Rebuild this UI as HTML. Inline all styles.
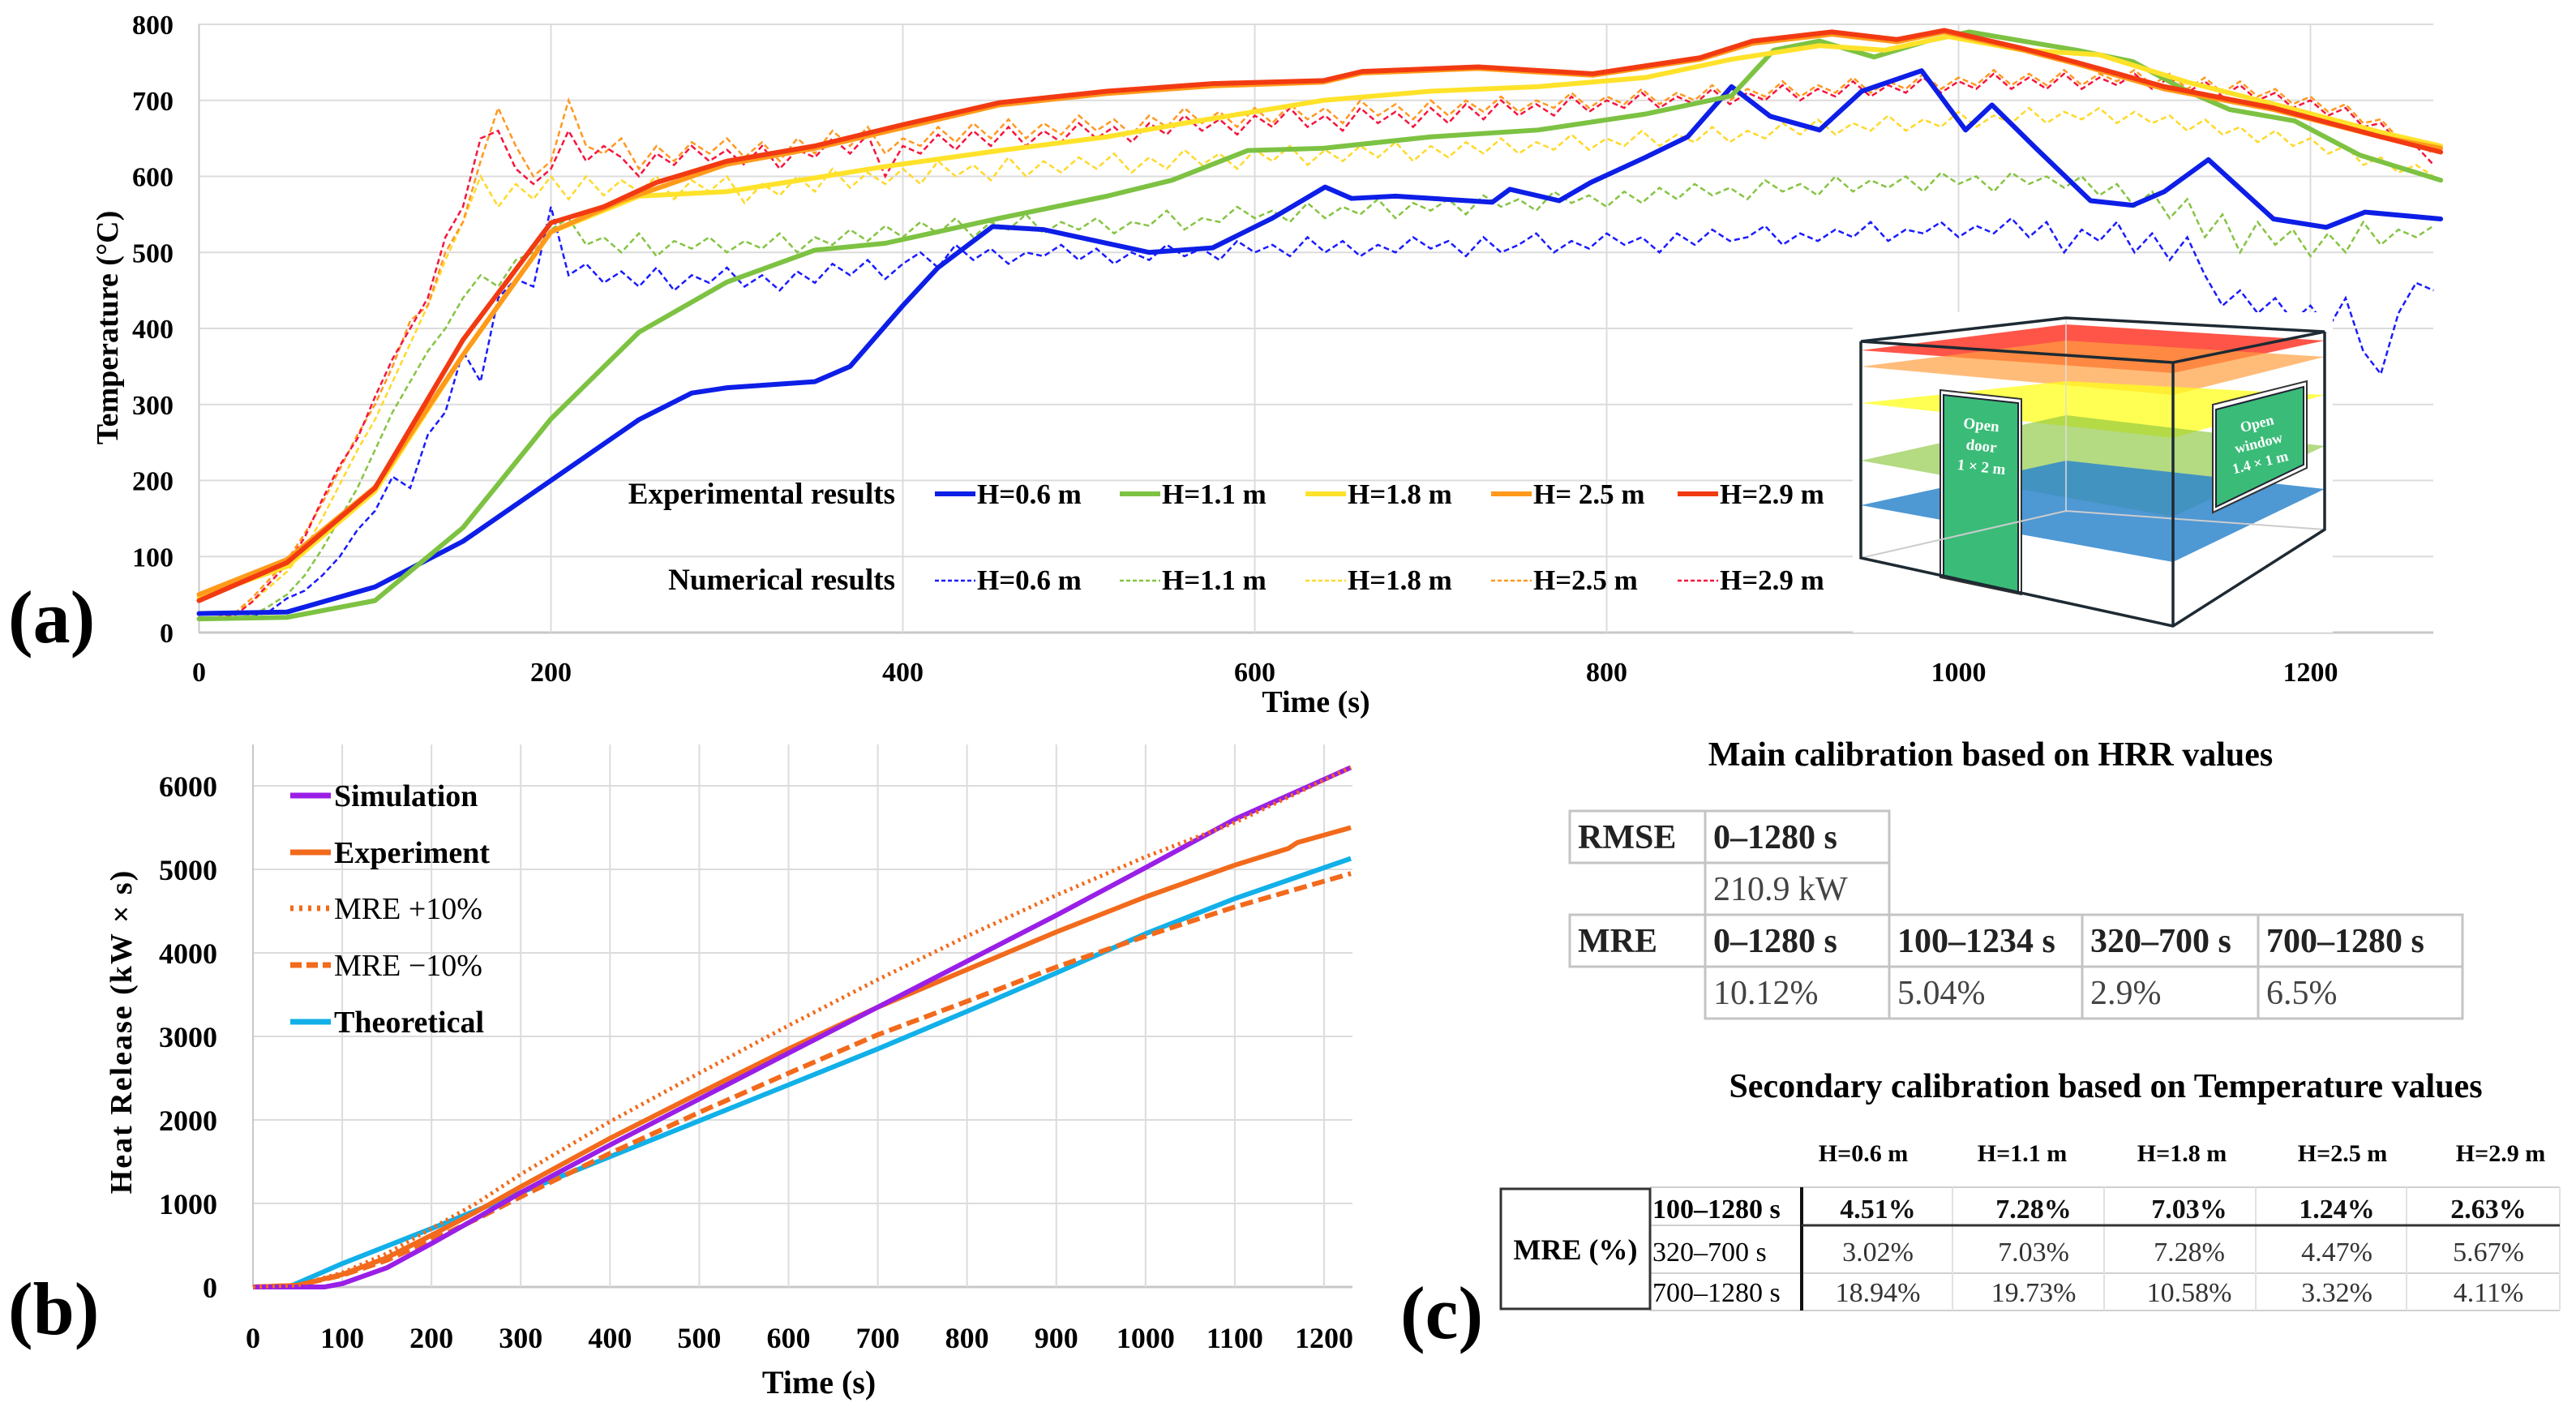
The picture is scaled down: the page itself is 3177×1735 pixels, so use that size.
<!DOCTYPE html>
<html><head><meta charset="utf-8"><style>
html,body{margin:0;padding:0;background:#fff;}
svg{display:block;font-family:"Liberation Serif",serif;}
</style></head><body>
<svg id="fig" width="3177" height="1735" viewBox="0 0 3177 1735" xmlns="http://www.w3.org/2000/svg">
<g id="chartA"></g>
<g id="inset">
  <polygon points="2295,432 2548,400 2867,420 2680,460" fill="#ff2a1a" fill-opacity="0.8"/>
  <polygon points="2295,452 2548,420 2867,440 2680,487" fill="#ffa040" fill-opacity="0.7"/>
  <polygon points="2295,497 2548,470 2867,487 2680,540" fill="#ffff1a" fill-opacity="0.75"/>
  <polygon points="2295,568 2548,512 2867,550 2680,637" fill="#8cc63f" fill-opacity="0.65"/>
  <polygon points="2295,623 2548,568 2867,603 2680,693" fill="#2f86cc" fill-opacity="0.85"/>
  <polygon points="2393,481 2493,492 2493,733 2393,712" fill="#fff" stroke="#333" stroke-width="2"/>
  <polygon points="2397,487 2489,497 2489,730 2397,710" fill="#17b060" fill-opacity="0.85" stroke="#223" stroke-width="2"/>
  <polygon points="2729,499 2845,470 2845,577 2729,632" fill="#fff" stroke="#333" stroke-width="2"/>
  <polygon points="2733,505 2841,477 2841,573 2733,625" fill="#17b060" fill-opacity="0.85" stroke="#223" stroke-width="2"/>
  <text x="2443" y="530" font-size="19" font-weight="bold" fill="#fff" text-anchor="middle" transform="rotate(6 2443 530)">Open</text>
  <text x="2443" y="556" font-size="19" font-weight="bold" fill="#fff" text-anchor="middle" transform="rotate(6 2443 556)">door</text>
  <text x="2443" y="582" font-size="19" font-weight="bold" fill="#fff" text-anchor="middle" transform="rotate(6 2443 582)">1 × 2 m</text>
  <text x="2785" y="528" font-size="18" font-weight="bold" fill="#fff" text-anchor="middle" transform="rotate(-14 2785 528)">Open</text>
  <text x="2787" y="552" font-size="18" font-weight="bold" fill="#fff" text-anchor="middle" transform="rotate(-14 2787 552)">window</text>
  <text x="2789" y="576" font-size="18" font-weight="bold" fill="#fff" text-anchor="middle" transform="rotate(-14 2789 576)">1.4 × 1 m</text>
  <polyline points="2295,688 2548,630 2867,653" fill="none" stroke="#ccc" stroke-width="2"/>
  <polyline points="2548,392 2548,630" fill="none" stroke="#ddd" stroke-width="1.5"/>
  <polygon points="2295,421 2548,392 2867,409 2680,447" fill="none" stroke="#1e2a33" stroke-width="3.5"/>
  <polyline points="2295,421 2295,688 2680,772 2867,653 2867,409" fill="none" stroke="#1e2a33" stroke-width="3.5"/>
  <line x1="2680" y1="447" x2="2680" y2="772" stroke="#1e2a33" stroke-width="3.5"/>
</g>
<g id="chartB"></g>
<g id="panelC"></g>
<text x="10" y="792" font-size="92" font-weight="bold">(a)</text>
<text x="10" y="1645" font-size="92" font-weight="bold">(b)</text>
<text x="1727" y="1650" font-size="92" font-weight="bold">(c)</text>
</svg>
<script>
// ---------- Chart A data ----------
const aYTicks = [0,100,200,300,400,500,600,700,800];
const aXTicks = [0,200,400,600,800,1000,1200];
const expT06 = [0,50,100,150,200,250,280,300,350,370,400,420,451,480,510,540,576,610,640,655,680,735,745,773,791,822,846,871,893,921,945,979,1004,1019,1044,1075,1099,1117,1142,1179,1209,1231,1274];
const expV06 = [25,27,60,120,200,280,315,322,330,350,430,480,534,530,515,500,506,545,586,571,574,566,583,568,592,625,652,718,679,661,712,739,661,694,637,568,562,580,622,544,533,553,544];
const expT11 = [0,50,100,150,200,250,300,350,390,455,516,553,596,639,700,761,822,871,895,921,952,982,1006,1067,1099,1130,1154,1191,1228,1274];
const expV11 = [18,20,42,138,281,395,461,503,512,545,574,595,634,637,652,661,682,706,766,778,757,778,790,766,751,712,688,673,628,595];
const expT18 = [0,50,100,150,200,250,300,350,390,455,516,560,576,639,700,761,822,871,921,958,994,1037,1080,1130,1191,1240,1274];
const expV18 = [46,87,186,365,527,574,580,598,613,634,652,670,676,700,712,718,730,754,772,766,784,766,760,724,688,658,640];
const expT25 = [0,50,100,150,200,240,300,350,400,455,516,576,639,661,727,792,853,883,928,965,992,1037,1067,1117,1179,1240,1274];
const expV25 = [50,96,191,365,527,568,616,637,664,694,709,719,724,736,742,733,754,775,787,777,790,766,748,715,688,652,637];
const expT29 = [0,50,100,150,200,230,260,300,350,400,455,516,576,639,661,727,792,853,883,928,965,992,1037,1067,1117,1179,1240,1274];
const expV29 = [42,92,190,385,539,560,592,620,640,668,697,712,722,726,738,744,735,756,778,790,780,792,768,750,718,690,652,632];
// numerical results sampled every 10 s from t=0
const numV06 = [20,20,20,20,28,45,55,75,100,135,160,205,190,260,290,370,330,440,465,455,560,470,485,460,475,455,480,450,470,460,480,455,470,450,475,460,485,470,490,465,485,500,480,510,490,505,485,500,495,510,490,505,485,500,490,510,495,505,490,515,500,510,495,520,500,515,495,510,500,520,505,515,495,520,500,510,525,500,515,505,525,510,520,500,525,510,530,515,520,535,510,525,515,530,520,540,515,530,525,540,520,535,525,545,520,540,500,530,515,540,500,525,490,520,470,430,450,420,440,410,430,400,440,370,340,420,460,450];
const numV11 = [20,20,20,22,35,50,75,110,150,190,240,290,330,370,400,440,470,455,490,500,530,545,510,520,500,525,495,515,505,520,500,515,505,525,500,520,510,530,515,535,520,540,525,545,520,540,530,550,525,540,530,545,525,540,535,555,530,545,540,560,545,555,540,565,545,560,550,570,545,565,555,570,550,575,560,570,555,580,565,575,560,580,565,585,570,590,575,585,570,595,580,590,575,600,580,595,585,600,580,605,590,600,580,605,590,600,585,600,575,590,560,580,545,570,520,550,500,540,510,530,495,525,500,540,510,530,520,535];
const numV18 = [20,20,25,40,60,80,110,150,195,240,280,330,380,430,490,540,600,560,590,570,600,570,600,575,595,580,600,570,595,580,600,565,590,575,600,580,610,585,605,590,610,590,620,600,615,595,625,600,620,605,625,610,630,605,625,610,635,615,630,610,635,620,640,615,635,620,640,625,645,620,640,625,645,630,650,630,645,635,655,635,650,640,660,640,655,645,665,645,660,650,670,655,675,655,670,660,680,660,675,665,685,665,680,670,690,670,685,675,690,670,685,670,680,660,675,655,665,645,660,640,650,630,640,615,625,605,615,600];
const numV25 = [20,20,25,45,70,95,130,170,215,260,300,350,410,430,500,540,620,690,640,600,620,700,640,630,650,610,640,620,645,630,650,625,645,620,650,630,660,640,665,630,650,640,665,645,670,650,675,650,670,655,680,660,675,655,680,665,690,670,685,665,690,670,695,675,690,670,700,680,695,675,700,680,700,685,705,685,700,690,710,690,705,695,715,695,710,700,720,700,715,705,725,705,720,710,730,710,725,715,735,715,730,720,740,720,735,720,740,720,735,725,740,720,735,715,730,710,725,705,715,695,705,685,695,670,675,650,645,630];
const numV29 = [20,20,22,40,65,90,125,175,220,255,310,360,400,440,520,560,650,660,610,590,610,660,620,640,625,600,630,615,640,620,635,615,640,610,635,625,650,630,655,600,640,630,655,635,660,640,665,640,660,645,670,650,665,645,670,655,680,660,675,655,680,665,690,665,680,660,690,670,685,665,690,670,695,675,700,680,695,680,705,685,700,690,710,690,705,695,715,695,710,700,720,700,715,705,725,705,720,710,730,710,725,715,735,715,730,715,735,715,730,720,735,715,730,710,725,705,720,700,710,690,700,680,690,665,670,645,640,615];

// ---------- Chart B data ----------
const bYTicks = [0,1000,2000,3000,4000,5000,6000];
const bXTicks = [0,100,200,300,400,500,600,700,800,900,1000,1100,1200];
const simT = [0,50,80,100,150,200,250,300,400,500,600,700,800,900,1000,1100,1230];
const simV = [0,0,0,40,230,520,820,1130,1700,2250,2800,3350,3900,4450,5020,5600,6220];
const expHT = [0,50,100,150,200,250,300,400,500,600,700,800,900,1000,1100,1160,1170,1230];
const expHV = [0,20,150,350,620,900,1200,1780,2320,2850,3350,3800,4250,4670,5050,5250,5320,5500];
const mrePT = [0,50,100,150,200,250,300,400,500,600,700,800,900,1000,1100,1230];
const mrePV = [0,20,170,400,700,1000,1350,1980,2560,3130,3680,4200,4690,5150,5560,6220];
const mreMT = [0,50,100,150,200,250,300,400,500,600,700,800,900,1000,1100,1230];
const mreMV = [0,20,140,320,560,810,1080,1600,2090,2560,3020,3420,3830,4200,4550,4950];
const theoT = [0,40,100,200,300,400,500,600,700,800,900,1000,1100,1230];
const theoV = [0,0,280,700,1130,1560,1990,2420,2850,3300,3760,4230,4650,5130];

const NS = "http://www.w3.org/2000/svg";
function mk(parent, tag, attrs, text) {
  const el = document.createElementNS(NS, tag);
  for (const k in attrs) el.setAttribute(k, attrs[k]);
  if (text !== undefined) el.textContent = text;
  parent.appendChild(el);
  return el;
}
const xa = t => 245.5 + t * 2.17;
const ya = v => 780 - v * 0.9375;
const xb = t => 312 + t * (1321 / 1200);
const yb = v => 1587 - v * 0.103;

// ---------- Draw Chart A ----------
const A = document.getElementById('chartA');
aYTicks.forEach(v => {
  const l = mk(A, 'line', {x1: 245, x2: 3001, y1: ya(v), y2: ya(v), stroke: v === 0 ? '#c8c8c8' : '#dcdcdc', 'stroke-width': v === 0 ? 3 : 2});
  
  
  const t = mk(A, 'text', {x: 214, y: ya(v) + 12, 'font-size': 34, 'font-weight': 'bold', 'text-anchor': 'end'}, String(v));
  
  
});
aXTicks.forEach(v => {
  if (v > 0) {
    const l = mk(A, 'line', {x1: xa(v), x2: xa(v), y1: 30, y2: 780, stroke: '#dcdcdc', 'stroke-width': 2});
    
    
  }
  const t = mk(A, 'text', {x: xa(v), y: 840, 'font-size': 34, 'font-weight': 'bold', 'text-anchor': 'middle'}, String(v));
  
  
});
const axA = mk(A, 'line', {x1: 245.5, x2: 245.5, y1: 30, y2: 780, stroke: '#c8c8c8', 'stroke-width': 2});


const ytA = mk(A, 'text', {x: 0, y: 0, 'font-size': 38, 'font-weight': 'bold', 'text-anchor': 'middle', transform: 'translate(145,404) rotate(-90)'}, 'Temperature (°C)');


const xtA = mk(A, 'text', {x: 1623, y: 878, 'font-size': 38, 'font-weight': 'bold', 'text-anchor': 'middle'}, 'Time (s)');



const numColors = ['#1b1bff', '#86c443', '#ffd92a', '#ff9820', '#f5153e'];
const numSeries = [numV06, numV11, numV18, numV25, numV29];
const numNames = ['num-h06', 'num-h11', 'num-h18', 'num-h25', 'num-h29'];
numSeries.forEach((arr, i) => {
  const pts = arr.map((v, k) => xa(k * 10) + ',' + ya(v)).join(' ');
  const p = mk(A, 'polyline', {points: pts, fill: 'none', stroke: numColors[i], 'stroke-width': 2.5, 'stroke-dasharray': '7,4'});
  
  
});
const expColors = ['#0d1ee6', '#7dc242', '#ffe22a', '#ff9a1a', '#f23a12'];
const expSeries = [[expT06, expV06], [expT11, expV11], [expT18, expV18], [expT25, expV25], [expT29, expV29]];
const expNames = ['exp-h06', 'exp-h11', 'exp-h18', 'exp-h25', 'exp-h29'];
expSeries.forEach((s, i) => {
  const pts = s[0].map((t, k) => xa(t) + ',' + ya(s[1][k])).join(' ');
  const p = mk(A, 'polyline', {points: pts, fill: 'none', stroke: expColors[i], 'stroke-width': 6, 'stroke-linejoin': 'round', 'stroke-linecap': 'round'});
  
  
});
// legend
const legLabels1 = ['H=0.6 m', 'H=1.1 m', 'H=1.8 m', 'H= 2.5 m', 'H=2.9 m'];
const legLabels2 = ['H=0.6 m', 'H=1.1 m', 'H=1.8 m', 'H=2.5 m', 'H=2.9 m'];
const legX = [1153, 1381, 1610, 1839, 2069];
const lg1 = mk(A, 'text', {x: 1104, y: 621, 'font-size': 37, 'font-weight': 'bold', 'text-anchor': 'end'}, 'Experimental results');


const lg2 = mk(A, 'text', {x: 1104, y: 727, 'font-size': 37, 'font-weight': 'bold', 'text-anchor': 'end'}, 'Numerical results');


legX.forEach((x, i) => {
  const l1 = mk(A, 'line', {x1: x, x2: x + 50, y1: 609, y2: 609, stroke: expColors[i], 'stroke-width': 6});
  
  
  const t1 = mk(A, 'text', {x: x + 52, y: 621, 'font-size': 35, 'font-weight': 'bold'}, legLabels1[i]);
  
  
  const l2 = mk(A, 'line', {x1: x, x2: x + 50, y1: 716, y2: 716, stroke: numColors[i], 'stroke-width': 2.5, 'stroke-dasharray': '5,3'});
  
  
  const t2 = mk(A, 'text', {x: x + 52, y: 727, 'font-size': 35, 'font-weight': 'bold'}, legLabels2[i]);
  
  
});
// move inset above lines
document.getElementById('fig').insertBefore(A, document.getElementById('inset'));
const insBg = mk(document.getElementById('inset'), 'rect', {x: 2285, y: 385, width: 592, height: 395, fill: '#fff'});
document.getElementById('inset').insertBefore(insBg, document.getElementById('inset').firstChild);

// ---------- Draw Chart B ----------
const B = document.getElementById('chartB');
bYTicks.forEach(v => {
  const l = mk(B, 'line', {x1: 312, x2: 1668, y1: yb(v), y2: yb(v), stroke: v === 0 ? '#c8c8c8' : '#dcdcdc', 'stroke-width': v === 0 ? 3 : 2});
  
  
  const t = mk(B, 'text', {x: 268, y: yb(v) + 13, 'font-size': 36, 'font-weight': 'bold', 'text-anchor': 'end'}, String(v));
  
  
});
bXTicks.forEach(v => {
  const l = mk(B, 'line', {x1: xb(v), x2: xb(v), y1: 918, y2: 1587, stroke: v === 0 ? '#c8c8c8' : '#dcdcdc', 'stroke-width': 2});
  
  
  const t = mk(B, 'text', {x: xb(v), y: 1662, 'font-size': 36, 'font-weight': 'bold', 'text-anchor': 'middle'}, String(v));
  
  
});
const ytB = mk(B, 'text', {x: 0, y: 0, 'font-size': 38, 'font-weight': 'bold', 'text-anchor': 'middle', 'letter-spacing': 2, transform: 'translate(162,1272) rotate(-90)'}, 'Heat Release (kW × s)');


const xtB = mk(B, 'text', {x: 1010, y: 1718, 'font-size': 40, 'font-weight': 'bold', 'text-anchor': 'middle'}, 'Time (s)');


const bSeries = [
  {t: theoT, v: theoV, c: '#12b0e8', d: '', w: 6, n: 'theoretical'},
  {t: mreMT, v: mreMV, c: '#f26a1b', d: '16,7', w: 6, n: 'mre-minus-10'},
  {t: expHT, v: expHV, c: '#f26a1b', d: '', w: 6, n: 'experiment'},
  {t: simT, v: simV, c: '#9a1fe6', d: '', w: 6, n: 'simulation'},
  {t: mrePT, v: mrePV, c: '#f26a1b', d: '3,5', w: 5, n: 'mre-plus-10'}
];
bSeries.forEach(s => {
  const pts = s.t.map((t, k) => xb(t) + ',' + yb(s.v[k])).join(' ');
  const p = mk(B, 'polyline', {points: pts, fill: 'none', stroke: s.c, 'stroke-width': s.w, 'stroke-dasharray': s.d || 'none', 'stroke-linejoin': 'round'});
  
  
});
const bLeg = [
  {label: 'Simulation', c: '#9a1fe6', d: '', y: 981, n: 'simulation'},
  {label: 'Experiment', c: '#f26a1b', d: '', y: 1051, n: 'experiment'},
  {label: 'MRE +10%', c: '#f26a1b', d: '4,7', y: 1120, n: 'mre-plus-10'},
  {label: 'MRE −10%', c: '#f26a1b', d: '14,6', y: 1190, n: 'mre-minus-10'},
  {label: 'Theoretical', c: '#12b0e8', d: '', y: 1260, n: 'theoretical'}
];
bLeg.forEach(e => {
  const l = mk(B, 'line', {x1: 358, x2: 408, y1: e.y, y2: e.y, stroke: e.c, 'stroke-width': 7, 'stroke-dasharray': e.d || 'none'});
  
  
  const bold = (e.n === 'mre-plus-10' || e.n === 'mre-minus-10') ? 'normal' : 'bold';
  const t = mk(B, 'text', {x: 412, y: e.y + 13, 'font-size': 38, 'font-weight': bold}, e.label);
  
  
});

// ---------- Panel C tables ----------
const C = document.getElementById('panelC');
const t1 = mk(C, 'text', {x: 2455, y: 944, 'font-size': 42, 'font-weight': 'bold', 'text-anchor': 'middle'}, 'Main calibration based on HRR values');


function cell(x, y, w, h, txt, bold, border, name) {
  if (border) {
    const r = mk(C, 'rect', {x: x, y: y, width: w, height: h, fill: 'none', stroke: '#c4c4c4', 'stroke-width': 3});
    
    
  }
  if (txt) {
    const t = mk(C, 'text', {x: x + 10, y: y + h - 18, 'font-size': 42, 'font-weight': bold ? 'bold' : 'normal', fill: bold ? '#222' : '#444'}, txt);
    
    
  }
}
const c1x = [1936, 2103, 2330, 2568, 2785, 3037];
const r1y = [1000, 1064, 1128, 1192, 1256];
cell(c1x[0], r1y[0], c1x[1] - c1x[0], 64, 'RMSE', true, true, 'rmse-header');
cell(c1x[1], r1y[0], c1x[2] - c1x[1], 64, '0–1280 s', true, true, 'rmse-range');
cell(c1x[1], r1y[1], c1x[2] - c1x[1], 64, '210.9 kW', false, true, 'rmse-value');
cell(c1x[0], r1y[2], c1x[1] - c1x[0], 64, 'MRE', true, true, 'mre-header');
const mreRanges = ['0–1280 s', '100–1234 s', '320–700 s', '700–1280 s'];
const mreVals = ['10.12%', '5.04%', '2.9%', '6.5%'];
mreRanges.forEach((r, i) => {
  cell(c1x[i + 1], r1y[2], c1x[i + 2] - c1x[i + 1], 64, r, true, true, 'mre-range-' + i);
  cell(c1x[i + 1], r1y[3], c1x[i + 2] - c1x[i + 1], 64, mreVals[i], false, true, 'mre-value-' + i);
});

const t2 = mk(C, 'text', {x: 2597, y: 1353, 'font-size': 42, 'font-weight': 'bold', 'text-anchor': 'middle'}, 'Secondary calibration based on Temperature values');


const hLabels = ['H=0.6 m', 'H=1.1 m', 'H=1.8 m', 'H=2.5 m', 'H=2.9 m'];
const hX = [2298, 2494, 2691, 2889, 3084];
hLabels.forEach((h, i) => {
  const t = mk(C, 'text', {x: hX[i], y: 1432, 'font-size': 30, 'font-weight': 'bold', 'text-anchor': 'middle'}, h);
  
  
});
const rowY = [1464, 1511, 1570, 1616];
const colX = [2035, 2222, 2408, 2595, 2782, 2968, 3157];
// grid
for (let r = 0; r < 4; r++) {
  const l = mk(C, 'line', {x1: 2035, x2: 3157, y1: rowY[r], y2: rowY[r], stroke: '#d0d0d0', 'stroke-width': 2});
  
  
}
for (let c = 0; c < colX.length; c++) {
  const l = mk(C, 'line', {x1: colX[c], x2: colX[c], y1: 1464, y2: 1616, stroke: c === 1 ? '#111' : '#e2e2e2', 'stroke-width': c === 1 ? 4 : 2});
  
  
}
mk(C, 'line', {x1: 2222, x2: 3157, y1: 1511, y2: 1511, stroke: '#333', 'stroke-width': 3});
const mreBox = mk(C, 'rect', {x: 1851, y: 1466, width: 184, height: 148, fill: 'none', stroke: '#333', 'stroke-width': 3});


const mreLab = mk(C, 'text', {x: 1943, y: 1553, 'font-size': 36, 'font-weight': 'bold', 'text-anchor': 'middle'}, 'MRE (%)');


const rowLabels = ['100–1280 s', '320–700 s', '700–1280 s'];
const tempMre = [
  ['4.51%', '7.28%', '7.03%', '1.24%', '2.63%'],
  ['3.02%', '7.03%', '7.28%', '4.47%', '5.67%'],
  ['18.94%', '19.73%', '10.58%', '3.32%', '4.11%']
];
const cellCx = [2316, 2508, 2700, 2882, 3069];
rowLabels.forEach((lab, r) => {
  const yb2 = [1502, 1555, 1605][r];
  const t = mk(C, 'text', {x: 2038, y: yb2, 'font-size': 34, 'font-weight': r === 0 ? 'bold' : 'normal'}, lab);
  
  
  tempMre[r].forEach((v, c) => {
    const tv = mk(C, 'text', {x: cellCx[c], y: yb2, 'font-size': 34, 'font-weight': r === 0 ? 'bold' : 'normal', 'text-anchor': 'middle', fill: r === 0 ? '#111' : '#333'}, v);
    
    
  });
});
</script>
</body></html>
